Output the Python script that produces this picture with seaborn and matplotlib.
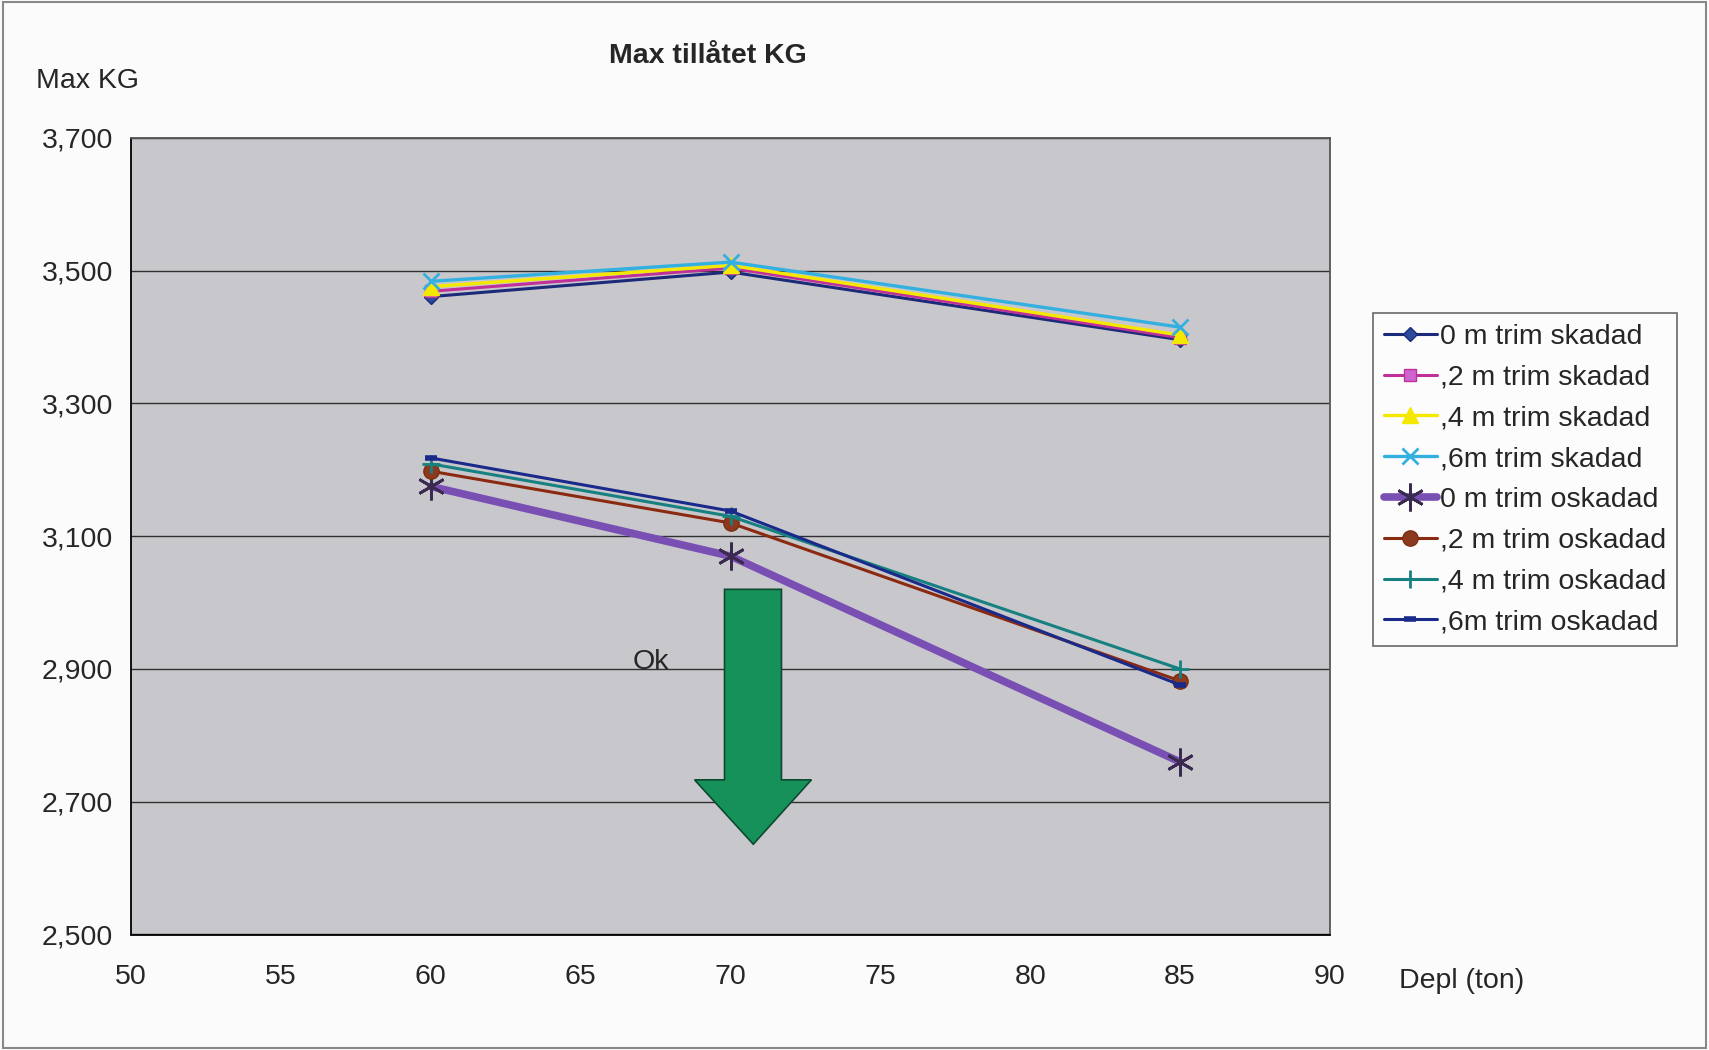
import matplotlib
matplotlib.use("Agg")
import matplotlib.pyplot as plt
from matplotlib.ticker import FuncFormatter, FixedLocator
from matplotlib.patches import Polygon, Rectangle
import seaborn as sns
import pandas as pd

# ---- data ----
depl = [60, 70, 85]
kg_0m_skadad = [3461, 3498, 3396]
kg_2m_skadad = [3469, 3504, 3399]
kg_4m_skadad = [3476, 3508, 3403]
kg_6m_skadad = [3484, 3513, 3415]
kg_0m_oskadad = [3175, 3070, 2760]
kg_2m_oskadad = [3198, 3120, 2882]
kg_4m_oskadad = [3209, 3130, 2900]
kg_6m_oskadad = [3218, 3138, 2876]

labels = ["0 m trim skadad", ",2 m trim skadad", ",4 m trim skadad", ",6m trim skadad",
          "0 m trim oskadad", ",2 m trim oskadad", ",4 m trim oskadad", ",6m trim oskadad"]
series = [kg_0m_skadad, kg_2m_skadad, kg_4m_skadad, kg_6m_skadad,
          kg_0m_oskadad, kg_2m_oskadad, kg_4m_oskadad, kg_6m_oskadad]

x_ticks = [50, 55, 60, 65, 70, 75, 80, 85, 90]
y_ticks = [2500, 2700, 2900, 3100, 3300, 3500, 3700]

title = "Max tillåtet KG"
ylabel = "Max KG"
xlabel = "Depl (ton)"

# ---- styles ----
styles = [
    dict(color="#1c2a7a", marker="D", ms=7, lw=2.2, mfc="#2a4a9a", mec="#1c2a7a"),
    dict(color="#c0309a", marker="s", ms=8, lw=2.2, mfc="#cc66cc", mec="#c0309a"),
    dict(color="#f5e800", marker="^", ms=11, lw=2.4, mfc="#f5e800", mec="#f5e800"),
    dict(color="#33b0e0", marker="x", ms=11, lw=2.4, mfc="#33b0e0", mec="#33b0e0", mew=2),
    dict(color="#7a4fb4", marker=(6, 2, 0), ms=20, lw=5.5, mfc="#3a2a50", mec="#3a2a50", mew=2),
    dict(color="#8b2a10", marker="o", ms=11, lw=2.2, mfc="#8b3a20", mec="#7a3010"),
    dict(color="#178080", marker="+", ms=13, lw=2.2, mfc="#178080", mec="#178080", mew=2),
    dict(color="#1a2a8a", marker="_", ms=9, lw=2.2, mfc="#1a2a8a", mec="#1a2a8a", mew=4),
]

sns.set_style("white")
plt.rcParams["font.family"] = ["Liberation Sans", "DejaVu Sans"]

FS = 20.5

fig = plt.figure(figsize=(17.09, 10.5), dpi=100)
fig.patch.set_facecolor("#fbfbfb")
ax = fig.add_axes([0.0767, 0.110, 0.7015, 0.7586])
ax.set_facecolor("#c8c8cc")

for lab, vals, st in zip(labels, series, styles):
    df = pd.DataFrame({"Depl": depl, "KG": vals})
    sns.lineplot(data=df, x="Depl", y="KG", ax=ax, label=lab, color=st["color"],
                 linewidth=st["lw"], marker=st["marker"], markersize=st["ms"],
                 markerfacecolor=st["mfc"], markeredgecolor=st["mec"],
                 markeredgewidth=st.get("mew", 1), zorder=3)

ax.set_xlim(50, 90)
ax.set_ylim(2500, 3700)
ax.xaxis.set_major_locator(FixedLocator(x_ticks))
ax.yaxis.set_major_locator(FixedLocator(y_ticks))
ax.yaxis.set_major_formatter(FuncFormatter(lambda v, p: f"{v:,.0f}"))
ax.grid(axis="y", color="#303030", lw=1.0)
ax.grid(axis="x", visible=False)
ax.set_axisbelow(True)
ax.tick_params(axis="both", labelsize=FS, length=7, width=1.2, color="black", direction="out")
ax.tick_params(axis="x", pad=14)
ax.tick_params(axis="y", pad=6)
ax.set_xlabel("")
ax.set_ylabel("")
for s in ["left", "bottom"]:
    ax.spines[s].set_color("black")
    ax.spines[s].set_linewidth(1.3)
for s in ["top", "right"]:
    ax.spines[s].set_color("#555555")
    ax.spines[s].set_linewidth(1.3)

# green arrow annotation
arrow = Polygon([(69.8, 3020), (71.7, 3020), (71.7, 2733), (72.7, 2733),
                 (70.76, 2636), (68.8, 2733), (69.8, 2733)], closed=True,
                facecolor="#16915a", edgecolor="#0c4a30", lw=1.2, zorder=2)
ax.add_patch(arrow)
ax.text(67.35, 2910, "Ok", fontsize=FS, ha="center", va="center", zorder=4)

fig.text(0.414, 0.947, title, fontsize=FS, fontweight="bold", ha="center", va="center")
fig.text(0.051, 0.923, ylabel, fontsize=FS, ha="center", va="center")
fig.text(0.855, 0.066, xlabel, fontsize=FS, ha="center", va="center")

leg = ax.legend(loc="upper left", bbox_to_anchor=(0.8034, 0.702), bbox_transform=fig.transFigure,
                fontsize=FS, frameon=True, fancybox=False, edgecolor="#444444",
                handlelength=1.85, handletextpad=0.12, labelspacing=0.52, borderpad=0.38,
                borderaxespad=0)
leg.get_frame().set_linewidth(1.2)
leg.get_frame().set_facecolor("#fdfdfd")

fig.patches.append(Rectangle((0.002, 0.002), 0.996, 0.996, transform=fig.transFigure,
                             fill=False, edgecolor="#888888", lw=1.5))

fig.savefig("out.png", dpi=100, facecolor=fig.get_facecolor())
